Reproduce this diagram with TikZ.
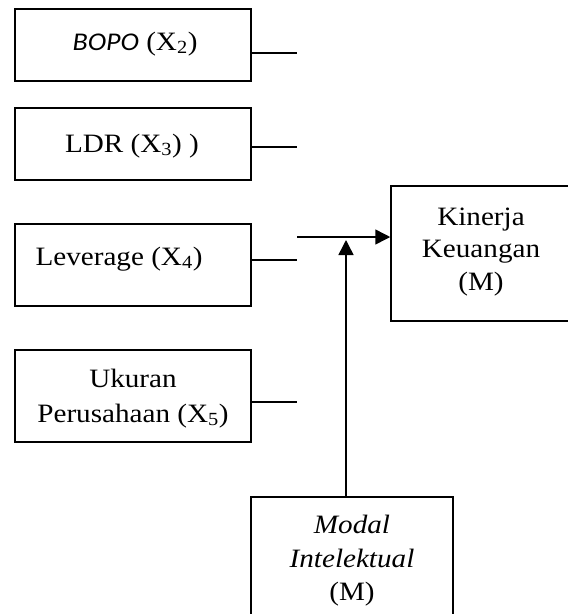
\documentclass[tikz,border=0pt]{standalone}
\usepackage{fontspec}
\usepackage{graphicx}
\setmainfont{Liberation Serif}
\newfontfamily\calibri{Carlito}
\usetikzlibrary{arrows.meta}
\newcommand{\wtxt}[1]{\scalebox{1.1}[1]{#1}}
\begin{document}
\begin{tikzpicture}[x=1pt,y=-1pt,
  box/.style={draw,line width=1.5pt,inner sep=0pt},
  txt/.style={anchor=base,inner sep=0pt,font=\fontsize{26.5}{32}\selectfont},
  link/.style={line width=1.5pt},
  arr/.style={line width=1.5pt,-{Triangle[length=15pt,width=15pt]}}]
\useasboundingbox (0,0) rectangle (568,614);
% boxes
\node[box,minimum width=236pt,minimum height=72pt] (bopo) at (133,45) {};
\node[box,minimum width=236pt,minimum height=72pt] (ldr) at (133,144) {};
\node[box,minimum width=236pt,minimum height=82pt] (lev) at (133,265) {};
\node[box,minimum width=236pt,minimum height=92pt] (uku) at (133,396) {};
\node[box,minimum width=180pt,minimum height=135pt] (kin) at (481,253.5) {};
\node[box,minimum width=202pt,minimum height=146pt] (mod) at (352,570) {};
% texts
\node[txt] (tbopo) at (135,50) {\wtxt{{\calibri\itshape\fontsize{25.5}{32}\selectfont BOPO} (X\textsubscript{2})}};
\node[txt] (tldr) at (132,152) {\wtxt{LDR (X\textsubscript{3}) )}};
\node[txt] (tlev) at (119,265) {\wtxt{Leverage (X\textsubscript{4})}};
\node[txt] (tuk1) at (133,387) {\wtxt{Ukuran}};
\node[txt] (tuk2) at (133,422) {\wtxt{Perusahaan (X\textsubscript{5})}};
\node[txt] (tk1) at (481,225) {\wtxt{Kinerja}};
\node[txt] (tk2) at (481,257) {\wtxt{Keuangan}};
\node[txt] (tk3) at (481,290) {\wtxt{(M)}};
\node[txt] (tm1) at (352,533) {\wtxt{\itshape Modal}};
\node[txt] (tm2) at (352,567) {\wtxt{\itshape Intelektual}};
\node[txt] (tm3) at (352,600) {\wtxt{(M)}};
% connectors
\coordinate (e1) at (297,53);
\coordinate (e2) at (297,147);
\coordinate (e3) at (297,260);
\coordinate (e4) at (297,402);
\coordinate (hs) at (297,237);
\coordinate (vt) at (346,240);
\draw[link] (bopo.east |- e1) -- (e1);
\draw[link] (ldr.east |- e2) -- (e2);
\draw[link] (lev.east |- e3) -- (e3);
\draw[link] (uku.east |- e4) -- (e4);
\draw[arr] (hs) -- (kin.west |- hs);
\draw[arr] (mod.north -| vt) -- (vt);
\end{tikzpicture}
\end{document}
